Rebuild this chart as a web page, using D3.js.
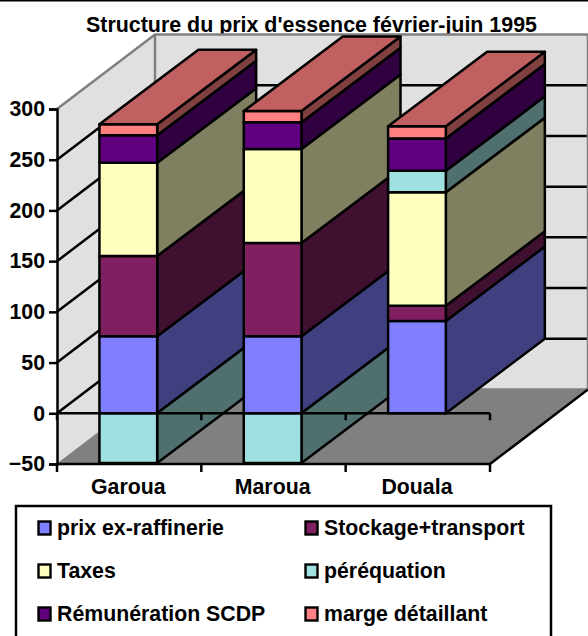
<!DOCTYPE html>
<html lang="fr">
<head>
<meta charset="utf-8">
<title>Structure du prix d'essence</title>
<script src="https://cdn.jsdelivr.net/npm/d3@7"></script>
<style>
  html, body { margin: 0; padding: 0; background: #fff; }
  svg { display: block; }
  text { font-family: "Liberation Sans", Arial, sans-serif; font-weight: bold; fill: #000; }
</style>
</head>
<body>
<div id="chart"></div>
<script>
const title = "Structure du prix d'essence février-juin 1995";
const cities = ["Garoua", "Maroua", "Douala"];
const seriesNames = ["prix ex-raffinerie", "Stockage+transport", "Taxes", "péréquation", "Rémunération SCDP", "marge détaillant"];
const prixExRaffinerie = [76, 76, 91];
const stockageTransport = [79, 92, 15];
const taxes = [92, 92.5, 112];
const perequation = [-49, -49, 21];
const remuneration = [27, 26.5, 32];
const margeDetaillant = [11, 11, 12];
const yTicks = [-50, 0, 50, 100, 150, 200, 250, 300];
const frontColors = ["#8080ff", "#802060", "#ffffc0", "#a0e0e0", "#600080", "#ff8080"];
const sideColors = ["#404080", "#401030", "#808060", "#507070", "#300040", "#804040"];
const topColor = "#c06060";
const wallColor = "#e0e0e0";
const floorColor = "#808080";
const edgeGray = "#808080";

const width = 588, height = 636;
const depthX = 98, depthY = -74.5;      // oblique offset of the back plane
const barDepthX = 99, barDepthY = -74.5;
const lineW = 2.5;
const fontSize = 21.3;

const x = d3.scaleBand().domain(cities).range([57, 490]).paddingInner(0.6).paddingOuter(0.3).align(0.49);
const y = d3.scaleLinear().domain([-50, 300]).range([464, 109]);

const rows = cities.map((c, i) => ({
  city: c,
  [seriesNames[0]]: prixExRaffinerie[i],
  [seriesNames[1]]: stockageTransport[i],
  [seriesNames[2]]: taxes[i],
  [seriesNames[3]]: perequation[i],
  [seriesNames[4]]: remuneration[i],
  [seriesNames[5]]: margeDetaillant[i]
}));
const stacked = d3.stack().keys(seriesNames).offset(d3.stackOffsetDiverging)(rows);

const svg = d3.select("#chart").append("svg").attr("width", width).attr("height", height);
const poly = pts => pts.map(p => p.join(",")).join(" ");

// Frame rule along the top edge
svg.append("line").attr("x1", 0).attr("x2", width).attr("y1", 0.5).attr("y2", 0.5)
  .attr("stroke", "#000").attr("stroke-width", 2);

svg.append("text").attr("x", 311.5).attr("y", 31.5).attr("text-anchor", "middle")
  .attr("font-size", 21.4).text(title);

// Walls and floor
const [x0, x1] = x.range();
const yTop = y(300), yBot = y(-50);
svg.append("polygon")
  .attr("points", poly([[x0, yTop], [x0 + depthX, yTop + depthY], [x0 + depthX, yBot + depthY], [x0, yBot]]))
  .attr("fill", wallColor);
svg.append("polygon")
  .attr("points", poly([[x0 + depthX, yTop + depthY], [x1 + depthX, yTop + depthY], [x1 + depthX, yBot + depthY], [x0 + depthX, yBot + depthY]]))
  .attr("fill", wallColor);
svg.append("polygon")
  .attr("points", poly([[x0, yBot], [x1, yBot], [x1 + depthX, yBot + depthY], [x0 + depthX, yBot + depthY]]))
  .attr("fill", floorColor);

// Gridlines across side and back walls
yTicks.filter(t => t > -50 && t < 300).forEach(t => {
  svg.append("polyline").attr("fill", "none").attr("stroke", "#000").attr("stroke-width", lineW)
    .attr("points", poly([[x0, y(t)], [x0 + depthX, y(t) + depthY], [x1 + depthX, y(t) + depthY]]));
});

// Wall outlines
svg.append("polyline").attr("fill", "none").attr("stroke", edgeGray).attr("stroke-width", lineW)
  .attr("points", poly([[x0, yTop], [x0 + depthX, yTop + depthY], [x1 + depthX, yTop + depthY], [x1 + depthX, yBot + depthY], [x0 + depthX, yBot + depthY], [x0 + depthX, yTop + depthY]]));
svg.append("line").attr("stroke", edgeGray).attr("stroke-width", 1)
  .attr("x1", x0).attr("y1", yBot).attr("x2", x0 + depthX).attr("y2", yBot + depthY);

// Stacked bars, left to right so nearer faces cover the previous side face
const bars = svg.append("g").attr("stroke", "#000").attr("stroke-width", lineW).attr("stroke-linejoin", "round");
cities.forEach((c, i) => {
  const left = x(c), right = left + x.bandwidth();
  const g = bars.append("g");
  stacked.forEach((layer, s) => {
    const [a, b] = layer[i];
    const top = y(Math.max(a, b)), bottom = y(Math.min(a, b));
    g.append("polygon")
      .attr("points", poly([[right, top], [right + barDepthX, top + barDepthY], [right + barDepthX, bottom + barDepthY], [right, bottom]]))
      .attr("fill", sideColors[s]);
    g.append("rect").attr("x", left).attr("y", top)
      .attr("width", x.bandwidth()).attr("height", bottom - top)
      .attr("fill", frontColors[s]);
  });
  const peak = y(d3.max(stacked, l => Math.max(l[i][0], l[i][1])));
  g.append("polygon")
    .attr("points", poly([[left, peak], [right, peak], [right + barDepthX, peak + barDepthY], [left + barDepthX, peak + barDepthY]]))
    .attr("fill", topColor);
});

// Floor's right-hand edge
svg.append("line").attr("stroke", "#000").attr("stroke-width", lineW)
  .attr("x1", x1).attr("y1", yBot).attr("x2", x1 + depthX).attr("y2", yBot + depthY);

// Value axis
const yAxis = svg.append("g").attr("transform", `translate(${x0},0)`)
  .call(d3.axisLeft(y).tickValues(yTicks).tickSize(8).tickPadding(4));
yAxis.attr("font-family", null);
yAxis.select(".domain").attr("stroke", "#000").attr("stroke-width", lineW);
yAxis.selectAll(".tick line").attr("stroke", "#000").attr("stroke-width", lineW);
yAxis.selectAll("text").attr("font-size", fontSize);

// Category rules at zero and at the base, with ticks on band boundaries
const bandEdges = d3.range(cities.length + 1).map(k => x0 + k * (x1 - x0) / cities.length);
[[y(0), 7], [yBot, 8]].forEach(([ly, tick]) => {
  svg.append("line").attr("x1", x0).attr("x2", x1).attr("y1", ly).attr("y2", ly)
    .attr("stroke", "#000").attr("stroke-width", lineW);
  svg.selectAll(null).data(bandEdges).join("line")
    .attr("x1", d => d).attr("x2", d => d).attr("y1", ly).attr("y2", ly + tick)
    .attr("stroke", "#000").attr("stroke-width", lineW);
});
const xAxis = svg.append("g").attr("transform", `translate(0,${yBot})`)
  .call(d3.axisBottom(x).tickSize(0).tickPadding(15));
xAxis.attr("font-family", null);
xAxis.select(".domain").remove();
xAxis.selectAll("text").attr("font-size", fontSize);

// Legend, running off the lower edge of the page
svg.append("rect").attr("x", 16).attr("y", 506).attr("width", 535).attr("height", 140)
  .attr("fill", "#fff").attr("stroke", "#000").attr("stroke-width", lineW);
const legendCols = [38.5, 305.5], legendRows = [528, 571, 614];
seriesNames.forEach((name, i) => {
  const lx = legendCols[i % 2], ly = legendRows[Math.floor(i / 2)];
  svg.append("rect").attr("x", lx).attr("y", ly - 6.5).attr("width", 12).attr("height", 13)
    .attr("fill", frontColors[i]).attr("stroke", "#000").attr("stroke-width", 2.4);
  svg.append("text").attr("x", lx + 18.5).attr("y", ly + 6.8).attr("font-size", fontSize).text(name);
});
</script>
</body>
</html>
